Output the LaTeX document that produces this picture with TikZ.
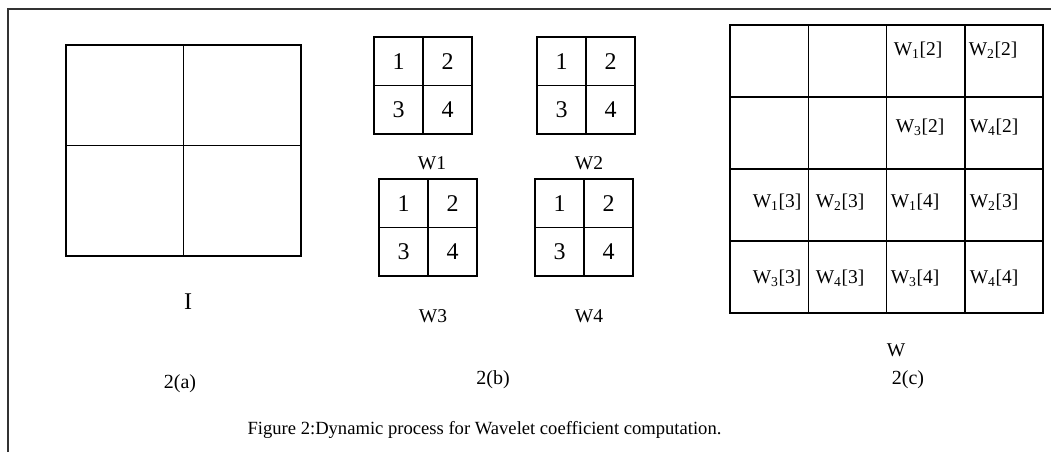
\documentclass[tikz,border=0pt]{standalone}
\usepackage{fontspec}
\setmainfont{Liberation Serif}
\usetikzlibrary{positioning}

\begin{document}
\begin{tikzpicture}[x=1pt,y=-1pt,
  cell/.style={draw,line width=1.5pt,inner sep=0pt,outer sep=0pt},
  bigcell/.style={cell,minimum width=117.5pt},
  qcell/.style={cell,minimum width=49pt,minimum height=48.5pt,font=\fontsize{24}{24}\selectfont},
  gcell/.style={cell,minimum width=78.25pt,minimum height=72pt},
  glabel/.style={inner sep=0pt,font=\fontsize{19.5}{20}\selectfont},
  sublabel/.style={inner sep=0pt,font=\fontsize{20}{20}\selectfont}]

\useasboundingbox (0,0) rectangle (1051,452);

%frame
\draw[line width=1.5pt,black!80] (8,452)--(8,9)--(1051,9);

%2(a)
\node[bigcell,minimum height=100.7pt] (i1) at (124.75,95.35) {};
\node[bigcell,minimum height=100.7pt,right=0pt of i1] (i2) {};
\node[bigcell,minimum height=110.3pt,below=0pt of i1] (i3) {};
\node[bigcell,minimum height=110.3pt,right=0pt of i3] (i4) {};
\node[inner sep=0pt,font=\fontsize{24}{24}\selectfont] (imglabel) at (188,302) {I};
\node[sublabel] (suba) at (180,384) {2(a)};

%2(b)
\foreach \n/\x/\y in {wa/398.5/61.25, wb/561.5/61.25, wc/403.5/203.25, wd/559.5/203.25}{
  \node[qcell] (\n1) at (\x,\y) {1};
  \node[qcell,right=0pt of \n1] (\n2) {2};
  \node[qcell,below=0pt of \n1] (\n3) {3};
  \node[qcell,right=0pt of \n3] (\n4) {4};
}
\node[glabel] (lwa) at (432,163) {W1};
\node[glabel] (lwb) at (589,163) {W2};
\node[glabel] (lwc) at (433,316) {W3};
\node[glabel] (lwd) at (589,316) {W4};
\node[sublabel] (subb) at (493,380) {2(b)};

%2(c)
\foreach \r in {1,...,4}{
  \foreach \c in {1,...,4}{
    \node[gcell] (g\r\c) at ({730+78.25*(\c-0.5)},{25+72*(\r-0.5)}) {};
  }
}
\node[glabel] (c13) at (918,50) {W\textsubscript{1}[2]};
\node[glabel] (c14) at (993,50) {W\textsubscript{2}[2]};
\node[glabel] (c23) at (920,127) {W\textsubscript{3}[2]};
\node[glabel] (c24) at (994,127) {W\textsubscript{4}[2]};
\node[glabel] (c31) at (777,202) {W\textsubscript{1}[3]};
\node[glabel] (c32) at (840,202) {W\textsubscript{2}[3]};
\node[glabel] (c33) at (915,202) {W\textsubscript{1}[4]};
\node[glabel] (c34) at (994,202) {W\textsubscript{2}[3]};
\node[glabel] (c41) at (777,278) {W\textsubscript{3}[3]};
\node[glabel] (c42) at (840,278) {W\textsubscript{4}[3]};
\node[glabel] (c43) at (915,278) {W\textsubscript{3}[4]};
\node[glabel] (c44) at (994,278) {W\textsubscript{4}[4]};
\node[glabel] (lw) at (896,350) {W};
\node[sublabel] (subc) at (908,380) {2(c)};

%caption
\node[inner sep=0pt,font=\fontsize{18.6}{20}\selectfont] (caption) at (484.5,430) {Figure 2:Dynamic process for Wavelet coefficient computation.};

\end{tikzpicture}
\end{document}
